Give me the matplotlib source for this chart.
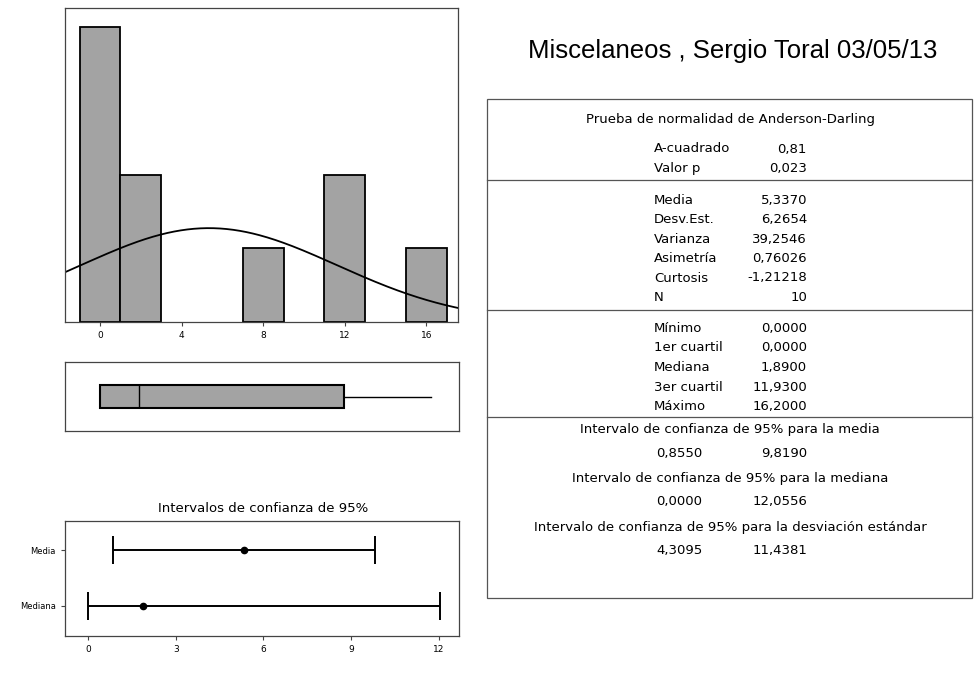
import numpy as np
import matplotlib
matplotlib.use('Agg')
from matplotlib import pyplot as plt
from matplotlib.lines import Line2D
from matplotlib.patches import Rectangle

# histogram data (bins of width 2)
bin_centers = [0, 2, 8, 12, 16]
bin_counts = [4, 2, 1, 2, 1]
bin_width = 2.0
hist_ticks = [0, 4, 8, 12, 16]

# summary stats
media = 5.3370
desv_est = 6.2654
n_obs = 10
q_min, q1, q_med, q3, q_max = 0.0, 0.0, 1.89, 11.93, 16.2

# 95% confidence intervals
ci_names = ['Mediana', 'Media']
ci_center = [1.89, 5.337]
ci_low = [0.0, 0.855]
ci_high = [12.0556, 9.819]
ci_ticks = [0, 3, 6, 9, 12]

title = 'Miscelaneos , Sergio Toral 03/05/13'
ad_header = 'Prueba de normalidad de Anderson-Darling'
ad_labels = ['A-cuadrado', 'Valor p']
ad_values = ['0,81', '0,023']
desc_labels = ['Media', 'Desv.Est.', 'Varianza', 'Asimetría', 'Curtosis', 'N']
desc_values = ['5,3370', '6,2654', '39,2546', '0,76026', '-1,21218', '10']
quant_labels = ['Mínimo', '1er cuartil', 'Mediana', '3er cuartil', 'Máximo']
quant_values = ['0,0000', '0,0000', '1,8900', '11,9300', '16,2000']
ci_headers = ['Intervalo de confianza de 95% para la media',
              'Intervalo de confianza de 95% para la mediana',
              'Intervalo de confianza de 95% para la desviación estándar']
ci_lo_txt = ['0,8550', '0,0000', '4,3095']
ci_hi_txt = ['9,8190', '12,0556', '11,4381']

W, H = 976, 673
fig = plt.figure(figsize=(W / 100, H / 100), dpi=100)
fig.patch.set_facecolor('white')


def fx(x):
    return x / W


def fy(y):
    return 1 - y / H


def style_axes(ax):
    for s in ax.spines.values():
        s.set_color('#444444')
        s.set_linewidth(0.9)
    ax.tick_params(axis='both', labelsize=6.5, length=3, width=0.8, color='#444444')


bar_face = '#a3a3a3'

# histogram
ax1 = fig.add_axes([fx(65), fy(322), fx(458 - 65), (322 - 8) / H])
ax1.bar(bin_centers, bin_counts, width=bin_width, color=bar_face,
        edgecolor='black', linewidth=1.3)
xs = np.linspace(-1.72, 17.55, 300)
pdf = np.exp(-0.5 * ((xs - media) / desv_est) ** 2) / (desv_est * np.sqrt(2 * np.pi))
ax1.plot(xs, pdf * n_obs * bin_width, color='black', lw=1.3)
ax1.set_xlim(-1.72, 17.55)
ax1.set_ylim(0, 4.26)
ax1.set_xticks(hist_ticks)
ax1.set_yticks([])
style_axes(ax1)

# boxplot
ax2 = fig.add_axes([fx(65), fy(431), fx(459 - 65), 69 / H])
stats = [{'whislo': q_min, 'q1': q1, 'med': q_med, 'q3': q3, 'whishi': q_max}]
ax2.bxp(stats, positions=[1], widths=0.32, vert=False, showfliers=False,
        showcaps=False, patch_artist=True,
        boxprops=dict(facecolor=bar_face, edgecolor='black', linewidth=1.5),
        medianprops=dict(color='black', linewidth=1.0),
        whiskerprops=dict(color='black', linewidth=1.0))
ax2.set_xlim(-1.72, 17.55)
ax2.set_ylim(0.5, 1.5)
ax2.set_xticks([])
ax2.set_yticks([])
style_axes(ax2)

# confidence intervals
ax3 = fig.add_axes([fx(65), fy(636), fx(459 - 65), 115 / H])
ypos = np.arange(1, len(ci_names) + 1)
err = [np.array(ci_center) - np.array(ci_low), np.array(ci_high) - np.array(ci_center)]
ax3.errorbar(ci_center, ypos, xerr=err, fmt='o', color='black', ms=4.5,
             capsize=10, elinewidth=1.4, capthick=1.4)
ax3.set_xlim(-0.79, 12.7)
ax3.set_ylim(0.46, 2.52)
ax3.set_xticks(ci_ticks)
ax3.set_yticks(ypos)
ax3.set_yticklabels(ci_names)
style_axes(ax3)
ax3.tick_params(axis='y', labelsize=6)
fig.text(fx(263), fy(508), 'Intervalos de confianza de 95%', ha='center', va='center',
         fontsize=9.5, family='DejaVu Sans')

# title
fig.text(fx(733), fy(51), title, ha='center', va='center', fontsize=18.5,
         family='Liberation Sans')

# table box
tab_font = dict(fontsize=9.5, family='DejaVu Sans', va='center')
fig.add_artist(Rectangle((fx(487), fy(598)), fx(972 - 487), (598 - 99) / H,
                         transform=fig.transFigure, fill=False,
                         edgecolor='#555555', lw=0.9))
for yl in [180, 310, 417]:
    fig.add_artist(Line2D([fx(487), fx(972)], [fy(yl), fy(yl)],
                          transform=fig.transFigure, color='#555555', lw=0.9))

lab_x, val_x = 654, 807
fig.text(fx(730), fy(120), ad_header, ha='center', **tab_font)


def write_rows(labels, values, y0, step):
    for i, (lab, val) in enumerate(zip(labels, values)):
        y = y0 + i * step
        fig.text(fx(lab_x), fy(y), lab, ha='left', **tab_font)
        fig.text(fx(val_x), fy(y), val, ha='right', **tab_font)


write_rows(ad_labels, ad_values, 149, 19.5)
write_rows(desc_labels, desc_values, 200, 19.5)
write_rows(quant_labels, quant_values, 328, 19.7)

for i, head in enumerate(ci_headers):
    yh = 430 + i * 48.5
    fig.text(fx(730), fy(yh), head, ha='center', **tab_font)
    fig.text(fx(lab_x + 2), fy(yh + 23.5), ci_lo_txt[i], ha='left', **tab_font)
    fig.text(fx(val_x), fy(yh + 23.5), ci_hi_txt[i], ha='right', **tab_font)

fig.savefig('out.png', dpi=100)
